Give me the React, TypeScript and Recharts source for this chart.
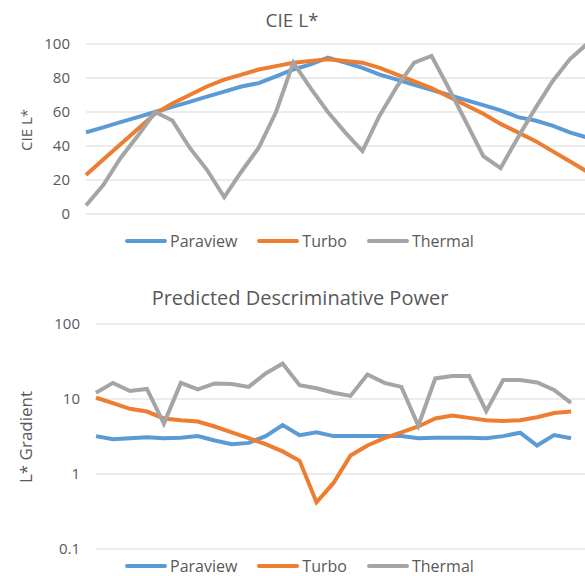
import { CartesianGrid, Line, LineChart, XAxis, YAxis } from "recharts";

const samples = Array.from({ length: 30 }, (_, i) => String(i + 1));

// CIE L* per sample
const paraviewL = [48, 51, 54, 57, 60, 63, 66, 69, 72, 75, 77, 81, 85, 88, 92, 89, 86, 82, 79, 76, 73, 70, 67, 64, 61, 57, 55, 52, 48, 45];
const turboL = [23, 32, 41, 50, 59, 65, 70, 75, 79, 82, 85, 87, 89, 90, 91, 90, 89, 86, 82, 78, 74, 69, 64, 59, 53, 48, 43, 37, 31, 25];
const thermalL = [5, 17, 33, 46, 60, 55, 39, 26, 10, 25, 39, 60, 89, 74, 60, 48, 37, 58, 75, 89, 93, 74, 54, 34, 27, 45, 62, 78, 91, 100];

// L* gradient between neighbouring samples (one fewer than samples)
const paraviewGrad = [3.2, 2.9, 3.0, 3.1, 3.0, 3.05, 3.2, 2.8, 2.5, 2.6, 3.2, 4.5, 3.3, 3.6, 3.2, 3.2, 3.2, 3.2, 3.2, 3.0, 3.05, 3.05, 3.05, 3.0, 3.2, 3.55, 2.4, 3.3, 3.0];
const turboGrad = [10.4, 8.8, 7.4, 6.8, 5.5, 5.2, 5.0, 4.3, 3.6, 3.0, 2.5, 2.0, 1.5, 0.42, 0.76, 1.76, 2.4, 3.0, 3.6, 4.3, 5.5, 6.0, 5.6, 5.2, 5.1, 5.2, 5.7, 6.5, 6.8];
const thermalGrad = [12.1, 16.4, 12.8, 13.6, 4.7, 16.4, 13.4, 16.1, 15.8, 14.5, 21.9, 29.7, 15.3, 13.9, 12.1, 11, 21.2, 16.4, 14.5, 4.4, 18.8, 20.2, 20.2, 6.9, 17.9, 17.9, 16.6, 13.2, 8.9];

const lTicks = [0, 20, 40, 60, 80, 100];
const gradTicks = [0.1, 1, 10, 100];

const series = [
  { key: "Paraview", color: "#5B9BD5" },
  { key: "Turbo", color: "#ED7D31" },
  { key: "Thermal", color: "#A5A5A5" },
];

const lData = samples.map((s, i) => ({
  sample: s,
  Paraview: paraviewL[i],
  Turbo: turboL[i],
  Thermal: thermalL[i],
}));

const gradData = samples.map((s, i) => ({
  sample: s,
  Paraview: paraviewGrad[i] ?? null,
  Turbo: turboGrad[i] ?? null,
  Thermal: thermalGrad[i] ?? null,
}));

const font = "'Open Sans', sans-serif";
const textColor = "#595959";
const tickStyle = { fill: textColor, fontSize: 15, fontFamily: font };

function LegendRow({ top }: { top: number }) {
  return (
    <div
      style={{
        position: "absolute",
        top,
        left: 125,
        display: "flex",
        alignItems: "center",
        gap: 20,
        fontFamily: font,
        fontSize: 16,
        color: textColor,
        lineHeight: "18px",
      }}
    >
      {series.map((s) => (
        <div key={s.key} style={{ display: "flex", alignItems: "center" }}>
          <span style={{ display: "inline-block", width: 42, height: 4, borderRadius: 2, background: s.color, marginRight: 3 }} />
          {s.key}
        </div>
      ))}
    </div>
  );
}

function Title({ text, top, center, size }: { text: string; top: number; center: number; size: number }) {
  return (
    <div
      style={{
        position: "absolute",
        top,
        left: center - 250,
        width: 500,
        textAlign: "center",
        fontFamily: font,
        fontSize: size,
        color: textColor,
        whiteSpace: "nowrap",
      }}
    >
      {text}
    </div>
  );
}

function AxisTitle({ text, cx, cy, size }: { text: string; cx: number; cy: number; size: number }) {
  return (
    <div
      style={{
        position: "absolute",
        left: cx - 60,
        top: cy - 10,
        width: 120,
        height: 20,
        lineHeight: "20px",
        textAlign: "center",
        transform: "rotate(-90deg)",
        fontFamily: font,
        fontSize: size,
        color: textColor,
        whiteSpace: "nowrap",
      }}
    >
      {text}
    </div>
  );
}

export default function App() {
  return (
    <div style={{ position: "absolute", left: 0, top: 0, width: 585, height: 576, overflow: "hidden", background: "#fff" }}>
      <Title text="CIE L*" top={7} center={292} size={19} />
      <AxisTitle text="CIE L*" cx={26} cy={130} size={15} />
      <div style={{ position: "absolute", left: 0, top: 0 }}>
        <LineChart width={590} height={260} data={lData} margin={{ top: 44, right: 3, bottom: 46, left: 0 }}>
          <CartesianGrid stroke="#d9d9d9" vertical={false} />
          <XAxis dataKey="sample" hide />
          <YAxis
            width={86}
            domain={[0, 100]}
            ticks={lTicks}
            axisLine={false}
            tickLine={false}
            tickMargin={10}
            tick={tickStyle}
          />
          {series.map((s) => (
            <Line key={s.key} type="linear" dataKey={s.key} stroke={s.color} strokeWidth={4} dot={false} isAnimationActive={false} />
          ))}
        </LineChart>
      </div>
      <LegendRow top={232} />

      <Title text="Predicted Descriminative Power" top={284} center={300} size={20} />
      <AxisTitle text="L* Gradient" cx={26} cy={437} size={17} />
      <div style={{ position: "absolute", left: 0, top: 280 }}>
        <LineChart width={590} height={296} data={gradData} margin={{ top: 44, right: 2, bottom: 27, left: 0 }}>
          <CartesianGrid stroke="#d9d9d9" vertical={false} />
          <XAxis dataKey="sample" hide />
          <YAxis
            width={96}
            scale="log"
            domain={[0.1, 100]}
            ticks={gradTicks}
            allowDataOverflow
            axisLine={false}
            tickLine={false}
            tickMargin={10}
            tick={tickStyle}
            tickFormatter={(v: number) => String(v)}
          />
          {series.map((s) => (
            <Line key={s.key} type="linear" dataKey={s.key} stroke={s.color} strokeWidth={4} dot={false} isAnimationActive={false} />
          ))}
        </LineChart>
      </div>
      <LegendRow top={557} />
    </div>
  );
}
